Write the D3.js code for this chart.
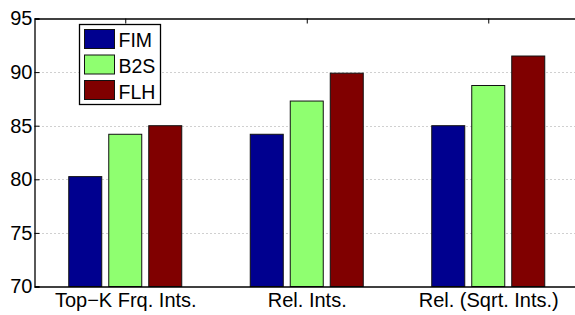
<!DOCTYPE html>
<html>
<head>
<meta charset="utf-8">
<script src="https://cdn.jsdelivr.net/npm/d3@7"></script>
<style>
  body { margin: 0; background: #fff; }
  svg { display: block; font-family: "Liberation Sans", Arial, sans-serif; }
</style>
</head>
<body>
<svg id="chart" width="575" height="315"></svg>
<script>
// Grouped bar chart (matlab style)
const categories = ["Top\u2212K Frq. Ints.", "Rel. Ints.", "Rel. (Sqrt. Ints.)"];
const series = ["FIM", "B2S", "FLH"];
const colors = ["#00008f", "#8fff70", "#800000"];
const fimValues = [80.25, 84.2, 85.0];
const b2sValues = [84.2, 87.3, 88.75];
const flhValues = [85.0, 89.9, 91.5];
const yTicks = [70, 75, 80, 85, 90, 95];

const values = [fimValues, b2sValues, flhValues];

const svg = d3.select('#chart');
const plotLeft = 34.5, plotTop = 18.5, plotBottom = 286.5;

// x in category units, matlab xlim [0.5, 3.5]; right edge falls outside the window
const x = d3.scaleLinear().domain([0.5, 3.5]).range([plotLeft, 579]);
const y = d3.scaleLinear().domain([70, 95]).range([plotBottom, plotTop]);
const xs = d3.scalePoint().domain(series).range([-40, 40]);
const barW = 33;

// grid
svg.append("g").selectAll("line")
    .data(yTicks.filter(t => t > 70 && t < 95))
    .enter().append("line")
    .attr("x1", plotLeft).attr("x2", 575)
    .attr("y1", d => Math.round(y(d)) + 0.5).attr("y2", d => Math.round(y(d)) + 0.5)
    .attr("stroke", "#a0a0a0")
    .attr("stroke-width", 1)
    .attr("stroke-dasharray", "1,3");

// bars
const rows = [];
categories.forEach((c, i) => {
    series.forEach((s, j) => rows.push({ cat: i + 1, s, j, v: values[j][i] }));
});
svg.append("g").selectAll("rect")
    .data(rows)
    .enter().append("rect")
    .attr("x", d => x(d.cat) + xs(d.s) - barW / 2)
    .attr("width", barW)
    .attr("y", d => y(d.v))
    .attr("height", d => y(70) - y(d.v))
    .attr("fill", d => colors[d.j])
    .attr("stroke", "#111")
    .attr("stroke-width", 1);

// axes
const yAxis = d3.axisLeft(y).tickValues(yTicks).tickSize(-5).tickPadding(2);
svg.append("g").attr("transform", `translate(${plotLeft},0)`).call(yAxis)
    .call(g => g.select(".domain").attr("stroke", "#000").attr("stroke-width", 1.3))
    .call(g => g.selectAll("text").attr("font-size", 20).attr("fill", "#000")
        .attr("font-family", "Liberation Sans, Arial, sans-serif"));

const xBottom = d3.axisBottom(x).tickValues([1, 2, 3]).tickFormat(d => categories[d - 1])
    .tickSizeInner(-5).tickSizeOuter(0).tickPadding(6);
svg.append("g").attr("transform", `translate(0,${plotBottom})`).call(xBottom)
    .call(g => g.select(".domain").attr("stroke", "#000").attr("stroke-width", 1.3))
    .call(g => g.selectAll(".tick line").remove())
    .call(g => g.selectAll("text").attr("font-size", 20).attr("fill", "#000")
        .attr("font-family", "Liberation Sans, Arial, sans-serif"));

const xTop = d3.axisTop(x).tickValues([1, 2, 3]).tickFormat("").tickSizeInner(-5).tickSizeOuter(0);
svg.append("g").attr("transform", `translate(0,${plotTop})`).call(xTop)
    .call(g => g.select(".domain").attr("stroke", "#000").attr("stroke-width", 1.3));

// legend
const lg = svg.append("g").attr("transform", "translate(79.5,24.5)");
lg.append("rect").attr("width", 81).attr("height", 80)
    .attr("fill", "#fff").attr("stroke", "#000").attr("stroke-width", 1.3);
series.forEach((s, j) => {
    lg.append("rect").attr("x", 5).attr("y", 5 + j * 25.5).attr("width", 30).attr("height", 19)
        .attr("fill", colors[j]).attr("stroke", "#111");
    lg.append("text").attr("x", 39).attr("y", 22.5 + j * 26).text(s)
        .attr("font-size", 19.5).attr("fill", "#000");
});
</script>
</body>
</html>
